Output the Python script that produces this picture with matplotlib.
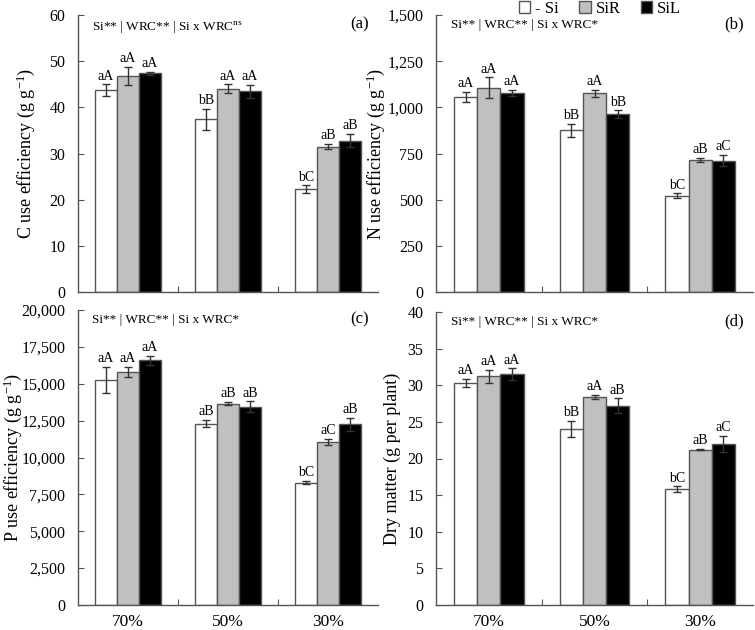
import numpy as np
import matplotlib
matplotlib.use("Agg")
import matplotlib.pyplot as plt
from matplotlib.patches import Patch
from matplotlib.ticker import FuncFormatter

plt.rcParams['font.family'] = ['Liberation Serif', 'DejaVu Serif']
plt.rcParams['mathtext.default'] = 'regular'

groups = ["70%", "50%", "30%"]
treatments = ["- Si", "SiR", "SiL"]
colors = ["white", "#c0c0c0", "black"]

# C use efficiency (g g-1)
c_mean = [[43.7, 37.4, 22.3], [46.8, 44.0, 31.5], [47.4, 43.5, 32.8]]
c_err = [[1.3, 2.3, 0.8], [2.0, 1.0, 0.6], [0.3, 1.4, 1.4]]
c_lett = [["aA", "bB", "bC"], ["aA", "aA", "aB"], ["aA", "aA", "aB"]]

# N use efficiency (g g-1)
n_mean = [[1055, 875, 522], [1105, 1075, 716], [1078, 962, 712]]
n_err = [[28, 35, 12], [57, 18, 10], [15, 22, 30]]
n_lett = [["aA", "bB", "bC"], ["aA", "aA", "aB"], ["aA", "bB", "aC"]]

# P use efficiency (g g-1)
p_mean = [[15250, 12300, 8300], [15800, 13650, 11050], [16600, 13450, 12250]]
p_err = [[900, 250, 120], [350, 100, 200], [300, 350, 450]]
p_lett = [["aA", "aB", "bC"], ["aA", "aB", "aC"], ["aA", "aB", "aB"]]

# Dry matter (g per plant)
d_mean = [[30.3, 24.0, 15.8], [31.2, 28.4, 21.2], [31.5, 27.2, 22.0]]
d_err = [[0.6, 1.1, 0.4], [0.9, 0.3, 0.1], [0.8, 1.0, 1.1]]
d_lett = [["aA", "bB", "bC"], ["aA", "aA", "aB"], ["aA", "aB", "aC"]]

panels = [
    dict(pos=[78, 378, 15, 292], mean=c_mean, err=c_err, lett=c_lett, ymax=60, step=10,
         ylabel="C use efficiency (g g$^{-1}$)", labx=26, tag="(a)",
         stat="Si** | WRC** | Si x WRC$^{ns}$", xlab=False),
    dict(pos=[436, 753, 15, 292], mean=n_mean, err=n_err, lett=n_lett, ymax=1500, step=250,
         ylabel="N use efficiency (g g$^{-1}$)", labx=376, tag="(b)",
         stat="Si** | WRC** | Si x WRC*", xlab=False),
    dict(pos=[78, 378, 310, 605], mean=p_mean, err=p_err, lett=p_lett, ymax=20000, step=2500,
         ylabel="P use efficiency (g g$^{-1}$)", labx=13, tag="(c)",
         stat="Si** | WRC** | Si x WRC*", xlab=True),
    dict(pos=[436, 753, 312, 605], mean=d_mean, err=d_err, lett=d_lett, ymax=40, step=5,
         ylabel="Dry matter (g per plant)", labx=392, tag="(d)",
         stat="Si** | WRC** | Si x WRC*", xlab=True),
]

W, H = 755, 630
fig = plt.figure(figsize=(W / 100, H / 100), dpi=100)
edge = "#555555"
bw = 0.22
x = np.arange(len(groups))

for p in panels:
    l, r, t, b = p['pos']
    ax = fig.add_axes([l / W, 1 - b / H, (r - l) / W, (b - t) / H])
    for i in range(3):
        xs = x + (i - 1) * bw
        ax.bar(xs, p['mean'][i], bw, color=colors[i], edgecolor=edge, linewidth=1.0, zorder=2)
        ax.errorbar(xs, p['mean'][i], yerr=p['err'][i], fmt='none', ecolor="#333333",
                    elinewidth=1.0, capsize=3, capthick=1.0, zorder=3)
        for j in range(3):
            ax.text(xs[j], p['mean'][i][j] + p['err'][i][j] + p['ymax'] * 0.006, p['lett'][i][j],
                    ha='center', va='bottom', fontsize=10)
    ax.set_xlim(-0.5, 2.5)
    ax.set_ylim(0, p['ymax'])
    ax.set_yticks(np.arange(0, p['ymax'] + p['step'] / 2, p['step']))
    ax.yaxis.set_major_formatter(FuncFormatter(lambda v, pos: f"{v:,.0f}"))
    ax.set_xticks([0.5, 1.5])
    ax.set_xticklabels([])
    ax.tick_params(axis='both', direction='in', length=4, color=edge, labelsize=11.5)
    ax.tick_params(axis='y', pad=9)
    if p['xlab']:
        for k, g in enumerate(groups):
            ax.text(k, -0.03, g, transform=ax.get_xaxis_transform(), ha='center', va='top', fontsize=12.5)
    for s in ['top', 'right']:
        ax.spines[s].set_visible(False)
    for s in ['left', 'bottom']:
        ax.spines[s].set_color(edge)
        ax.spines[s].set_linewidth(1.0)
    ax.set_ylabel(p['ylabel'], fontsize=13, va='center')
    ax.yaxis.set_label_coords((p['labx'] - l) / (r - l), 0.5)
    ax.text(0.94, 0.995, p['tag'], transform=ax.transAxes, ha='center', va='top', fontsize=12)
    ax.text(0.047, 0.985, p['stat'], transform=ax.transAxes, ha='left', va='top', fontsize=9.5)

handles = [Patch(facecolor=c, edgecolor=edge, label=t) for c, t in zip(colors, treatments)]
fig.legend(handles=handles, loc='upper center', bbox_to_anchor=(600 / W, 1.0), ncol=3, frameon=False,
           fontsize=12, handlelength=0.7, handleheight=0.7, handletextpad=0.3, columnspacing=1.2,
           borderaxespad=0.0, borderpad=0.05)

fig.savefig("out.png", dpi=100)
